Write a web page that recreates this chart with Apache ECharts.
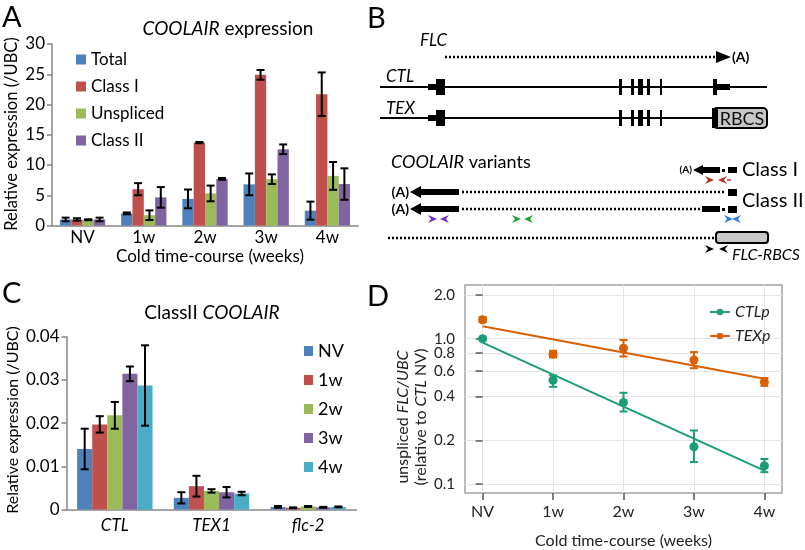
<!DOCTYPE html>
<html>
<head>
<meta charset="utf-8">
<script src="https://cdn.jsdelivr.net/npm/echarts@6/dist/echarts.min.js"></script>
<style>
  html, body { margin: 0; padding: 0; background: #fff; }
  #main { width: 805px; height: 550px; }
</style>
</head>
<body>
<div id="main"></div>
<script>
// ---- data ----
const weeks = ['NV', '1w', '2w', '3w', '4w'];

// panel A: COOLAIR expression
const aNames = ['Total', 'Class I', 'Unspliced', 'Class II'];
const aTotal = [1.0, 2.0, 4.4, 6.8, 2.45];
const aTotalErr = [0.3, 0.15, 1.55, 1.8, 1.5];
const aClassI = [1.0, 6.0, 13.7, 24.9, 21.7];
const aClassIErr = [0.2, 1.0, 0.1, 0.8, 3.6];
const aUnspliced = [0.95, 1.7, 5.3, 7.65, 8.2];
const aUnsplicedErr = [0.08, 0.8, 1.3, 0.8, 2.3];
const aClassII = [1.0, 4.65, 7.7, 12.6, 6.85];
const aClassIIErr = [0.3, 1.7, 0.15, 0.8, 2.6];

// panel C: ClassII COOLAIR
const cGenes = ['CTL', 'TEX1', 'flc-2'];
const cNV = [0.0140, 0.0027, 0.0006];
const cNVErr = [0.0047, 0.0013, 0.0002];
const c1w = [0.0197, 0.0054, 0.0004];
const c1wErr = [0.0019, 0.0024, 0.0001];
const c2w = [0.0218, 0.0043, 0.0007];
const c2wErr = [0.0031, 0.0004, 0.0001];
const c3w = [0.0314, 0.0040, 0.0005];
const c3wErr = [0.0017, 0.0012, 0.0001];
const c4w = [0.0287, 0.0037, 0.0006];
const c4wErr = [0.0093, 0.0004, 0.0001];

// panel D: unspliced FLC/UBC, log scale
const dTicks = [0.1, 0.2, 0.4, 0.6, 0.8, 1.0, 2.0];
const ctlMean = [1.0, 0.518, 0.365, 0.181, 0.134];
const ctlLow = [0.98, 0.467, 0.316, 0.142, 0.121];
const ctlHigh = [1.02, 0.56, 0.425, 0.234, 0.149];
const ctlFit = [0.94, 0.124];   // fitted line at NV and 4w
const texMean = [1.35, 0.783, 0.86, 0.714, 0.504];
const texLow = [1.30, 0.744, 0.755, 0.627, 0.474];
const texHigh = [1.40, 0.826, 0.98, 0.809, 0.537];
const texFit = [1.22, 0.531];

// ---- styles ----
const FONT = 'Lato, "Open Sans", sans-serif';
const officeColors = ['#4F81BD', '#C0504D', '#9BBB59', '#8064A2', '#4BACC6'];
const GREEN = '#1b9e77';
const ORANGE = '#d95f02';

const chart = echarts.init(document.getElementById('main'));

// error bars sitting on grouped bars
function barErrors(name, xIdx, yIdx, vals, errs, k, n, gap) {
  return {
    name: name, type: 'custom', xAxisIndex: xIdx, yAxisIndex: yIdx, z: 5,
    data: vals.map((v, i) => [i, v, errs[i]]),
    renderItem: function (params, api) {
      const band = api.size([1, 0])[0];
      const bw = band * (1 - gap) / n;
      const c = api.coord([api.value(0), api.value(1)]);
      const x = c[0] + (k - (n - 1) / 2) * bw;
      const top = api.coord([api.value(0), api.value(1) + api.value(2)])[1];
      const bot = api.coord([api.value(0), api.value(1) - api.value(2)])[1];
      const st = { stroke: '#000', lineWidth: 2 };
      return { type: 'group', children: [
        { type: 'line', shape: { x1: x, y1: top, x2: x, y2: bot }, style: st },
        { type: 'line', shape: { x1: x - 4, y1: top, x2: x + 4, y2: top }, style: st },
        { type: 'line', shape: { x1: x - 4, y1: bot, x2: x + 4, y2: bot }, style: st }
      ] };
    }
  };
}

function pointErrors(name, lows, highs, color) {
  return {
    name: name, type: 'custom', xAxisIndex: 2, yAxisIndex: 2, z: 4,
    data: lows.map((v, i) => [i, v, highs[i]]),
    renderItem: function (params, api) {
      const p1 = api.coord([api.value(0), api.value(1)]);
      const p2 = api.coord([api.value(0), api.value(2)]);
      const st = { stroke: color, lineWidth: 2 };
      return { type: 'group', children: [
        { type: 'line', shape: { x1: p1[0], y1: p1[1], x2: p2[0], y2: p2[1] }, style: st },
        { type: 'line', shape: { x1: p1[0] - 4, y1: p1[1], x2: p1[0] + 4, y2: p1[1] }, style: st },
        { type: 'line', shape: { x1: p2[0] - 4, y1: p2[1], x2: p2[0] + 4, y2: p2[1] }, style: st }
      ] };
    }
  };
}

function txt(x, y, text, o) {
  o = o || {};
  return {
    type: 'text', x: x, y: y, rotation: o.rot || 0, z: 10,
    style: {
      text: text, x: 0, y: 0,
      fontFamily: FONT, fontSize: o.size || 16, fontStyle: o.style || 'normal',
      fontWeight: o.weight || 'normal', fill: o.color || '#000',
      textAlign: o.align || 'left', textVerticalAlign: o.valign || 'middle',
      rich: { i: { fontFamily: FONT, fontSize: o.size || 16, fontStyle: 'italic', fill: o.color || '#000' } }
    }
  };
}
function rect(x1, y1, x2, y2, fill) {
  return { type: 'rect', shape: { x: x1, y: y1, width: x2 - x1, height: y2 - y1 }, style: { fill: fill || '#000' } };
}
function seg(x1, y1, x2, y2, w, dash) {
  return { type: 'line', shape: { x1: x1, y1: y1, x2: x2, y2: y2 },
    style: { stroke: '#000', lineWidth: w || 2, lineDash: dash || null } };
}
function poly(pts, fill) {
  return { type: 'polygon', shape: { points: pts }, style: { fill: fill || '#000' } };
}
// primer arrowheads: pointing right from x, and pointing left ending at x
function primerR(x, y, c) { return poly([[x, y - 4], [x + 9, y], [x, y + 4], [x + 3, y]], c); }
function primerL(x, y, c) { return poly([[x, y - 4], [x - 9, y], [x, y + 4], [x - 3, y]], c); }

const dotted = [2, 2];
const exonX = [[619, 622], [631, 634], [638, 643], [647, 650], [660, 662]];

function geneRow(y, withRbcs) {
  const els = [];
  els.push(seg(380, y, withRbcs ? 713 : 767, y, 2));
  els.push(rect(428, y - 3, 436, y + 3));
  els.push(rect(436, y - 8, 445, y + 8));
  exonX.forEach(e => els.push(rect(e[0], y - 8, e[1], y + 8)));
  if (withRbcs) {
    els.push({ type: 'rect', shape: { x: 713, y: y - 10, width: 54, height: 20, r: 4 },
      style: { fill: '#c8c8c8', stroke: '#000', lineWidth: 2 } });
    els.push(rect(712, y - 10, 718, y + 10));
    els.push(txt(742, y + 1, 'RBCS', { size: 18, align: 'center', color: '#111' }));
  } else {
    els.push(rect(713, y - 8, 717, y + 8));
    els.push(rect(717, y - 3, 730, y + 3));
  }
  return els;
}

function coolairArrow(y) {
  return [
    txt(409, y, '(A)', { size: 14, weight: 'bold', align: 'right' }),
    poly([[410, y], [421, y - 6], [421, y + 6]]),
    rect(421, y - 3, 459, y + 3)
  ];
}

const diagram = [].concat(
  [txt(420, 41, 'FLC', { size: 17, style: 'italic' }),
   seg(445, 57, 716, 57, 2.5, dotted),
   poly([[716, 51], [731, 57], [716, 63]]),
   txt(732, 57, '(A)', { size: 14, weight: 'bold' }),
   txt(386, 77, 'CTL', { size: 17, style: 'italic' }),
   txt(386, 109, 'TEX', { size: 17, style: 'italic' })],
  geneRow(87, false),
  geneRow(118, true),
  [txt(391, 162, '{i|COOLAIR} variants', { size: 18 }),
   // class I
   txt(692, 170, '(A)', { size: 10, weight: 'bold', align: 'right' }),
   poly([[693, 170], [703, 165], [703, 175]]),
   rect(703, 167, 720, 173),
   rect(722, 169, 725, 172),
   rect(728, 167, 737, 173),
   txt(742, 170, 'Class I', { size: 20 }),
   primerR(705, 180, '#b3302a'),
   primerL(727, 180, '#b3302a'),
   { type: 'line', shape: { x1: 727, y1: 180, x2: 731, y2: 180 }, style: { stroke: '#b3302a', lineWidth: 1.5 } }],
  // class II
  coolairArrow(192),
  [seg(462, 192, 726, 192, 2.5, dotted),
   rect(728, 189, 737, 196)],
  coolairArrow(209),
  [seg(462, 209, 700, 209, 2.5, dotted),
   rect(702, 206, 720, 212),
   rect(722, 208, 725, 211),
   rect(728, 206, 737, 213),
   txt(742, 201, 'Class II', { size: 20 }),
   primerR(428, 219, '#6a2fc0'), primerL(449, 219, '#6a2fc0'),
   primerR(512, 219, '#1e9e2a'), primerL(533, 219, '#1e9e2a'),
   primerR(724, 219, '#2d7fd6'), primerL(741, 219, '#2d7fd6'),
   // FLC-RBCS
   seg(388, 238, 714, 238, 2.5, dotted),
   { type: 'rect', shape: { x: 716, y: 232, width: 52, height: 11, r: 3 },
     style: { fill: '#c8c8c8', stroke: '#000', lineWidth: 2 } },
   primerR(705, 249, '#000'), primerL(728, 249, '#000'),
   txt(732, 255, 'FLC-RBCS', { size: 16, style: 'italic' })]
);

const labels = [
  txt(2, 18, 'A', { size: 29 }),
  txt(367, 19, 'B', { size: 29 }),
  txt(2, 294, 'C', { size: 29 }),
  txt(367, 297, 'D', { size: 29 }),
  txt(228, 29, '{i|COOLAIR} expression', { size: 19, align: 'center' }),
  txt(212, 313, 'ClassII {i|COOLAIR}', { size: 19, align: 'center' }),
  txt(12, 134, 'Relative expression (/UBC)', { size: 16.5, align: 'center', rot: Math.PI / 2 }),
  txt(210, 257, 'Cold time-course (weeks)', { size: 17, align: 'center' }),
  txt(13, 420, 'Relative expression (/UBC)', { size: 16, align: 'center', rot: Math.PI / 2 }),
  txt(403, 417, 'unspliced {i|FLC/UBC}', { size: 16, align: 'center', rot: Math.PI / 2, color: '#222' }),
  txt(421, 417, '(relative to {i|CTL} NV)', { size: 16, align: 'center', rot: Math.PI / 2, color: '#222' })
];

const axisGray = { color: '#868686', width: 1.5 };
const tickLabel = { fontFamily: FONT, fontSize: 17, color: '#000' };

function barSeries(name, xIdx, yIdx, vals, color, gap) {
  return { name: name, type: 'bar', xAxisIndex: xIdx, yAxisIndex: yIdx, data: vals,
    barGap: '0%', barCategoryGap: gap, itemStyle: { color: color } };
}

const aVals = [aTotal, aClassI, aUnspliced, aClassII];
const aErrs = [aTotalErr, aClassIErr, aUnsplicedErr, aClassIIErr];
const cVals = [cNV, c1w, c2w, c3w, c4w];
const cErrs = [cNVErr, c1wErr, c2wErr, c3wErr, c4wErr];

const series = [];
aNames.forEach((n, k) => series.push(barSeries(n, 0, 0, aVals[k], officeColors[k], '26%')));
aNames.forEach((n, k) => series.push(barErrors('errA' + k, 0, 0, aVals[k], aErrs[k], k, 4, 0.26)));
weeks.forEach((n, k) => series.push(barSeries(n, 1, 1, cVals[k], officeColors[k], '22%')));
weeks.forEach((n, k) => series.push(barErrors('errC' + k, 1, 1, cVals[k], cErrs[k], k, 5, 0.22)));

function fitLine(name, fit, color) {
  return { name: name, type: 'line', xAxisIndex: 2, yAxisIndex: 2,
    data: [[0, fit[0]], [4, fit[1]]], symbol: 'circle', symbolSize: 8, showSymbol: false,
    lineStyle: { color: color, width: 2 }, itemStyle: { color: color }, z: 3 };
}
function points(name, vals, color) {
  return { name: name, type: 'scatter', xAxisIndex: 2, yAxisIndex: 2,
    data: vals.map((v, i) => [i, v]), symbol: 'circle', symbolSize: 9,
    itemStyle: { color: color, opacity: 1 }, z: 5 };
}
series.push(fitLine('CTLp', ctlFit, GREEN));
series.push(fitLine('TEXp', texFit, ORANGE));
series.push(points('CTLp', ctlMean, GREEN));
series.push(points('TEXp', texMean, ORANGE));
series.push(pointErrors('errCTL', ctlLow, ctlHigh, GREEN));
series.push(pointErrors('errTEX', texLow, texHigh, ORANGE));

const weekIdx = [0, 1, 2, 3, 4];

chart.setOption({
  animation: false,
  textStyle: { fontFamily: FONT },
  grid: [
    { left: 52, top: 44, width: 306, bottom: 324.5 },
    { left: 66.5, top: 336.7, width: 290, bottom: 40.5 },
    { left: 465, top: 285, right: 23, bottom: 52, show: true, borderColor: '#a3a3a3', borderWidth: 1.5, backgroundColor: '#fff' }
  ],
  legend: [
    { data: aNames, orient: 'vertical', left: 71, top: 46, itemWidth: 10, itemHeight: 10, itemGap: 10,
      icon: 'rect', selectedMode: false, textStyle: { fontFamily: FONT, fontSize: 17, color: '#000' } },
    { data: weeks, orient: 'vertical', left: 299, top: 337, itemWidth: 9, itemHeight: 10, itemGap: 11,
      itemTextGap: 2, icon: 'rect', selectedMode: false, textStyle: { fontFamily: FONT, fontSize: 18, color: '#000' } },
    { data: ['CTLp', 'TEXp'], orient: 'vertical', left: 704, top: 299, itemWidth: 20, itemHeight: 8, itemGap: 8,
      selectedMode: false, textStyle: { fontFamily: FONT, fontSize: 16, fontStyle: 'italic', color: '#222' } }
  ],
  xAxis: [
    { type: 'category', gridIndex: 0, data: weeks,
      axisLine: { lineStyle: axisGray }, axisTick: { length: 5, lineStyle: axisGray },
      axisLabel: Object.assign({ margin: 4 }, tickLabel) },
    { type: 'category', gridIndex: 1, data: cGenes,
      axisLine: { lineStyle: axisGray }, axisTick: { length: 5, lineStyle: axisGray },
      axisLabel: Object.assign({ margin: 8 }, tickLabel, { fontStyle: 'italic' }) },
    { type: 'value', gridIndex: 2, min: -0.25, max: 4.25,
      axisLine: { show: false },
      axisTick: { customValues: weekIdx, length: 7, lineStyle: { color: '#555', width: 1.5 } },
      axisLabel: { customValues: weekIdx, formatter: v => weeks[Math.round(v)], margin: 11,
        fontFamily: FONT, fontSize: 16, color: '#222' },
      splitLine: { show: true, lineStyle: { color: '#e4e4e4', width: 1 } },
      name: 'Cold time-course (weeks)', nameLocation: 'middle', nameGap: 40,
      nameTextStyle: { fontFamily: FONT, fontSize: 16, color: '#222' } }
  ],
  yAxis: [
    { type: 'value', gridIndex: 0, min: 0, max: 30, interval: 5,
      axisLine: { show: true, lineStyle: axisGray }, axisTick: { show: true, length: 5, lineStyle: axisGray },
      splitLine: { show: false }, axisLabel: Object.assign({ margin: 7 }, tickLabel) },
    { type: 'value', gridIndex: 1, min: 0, max: 0.04, interval: 0.01,
      axisLine: { show: true, lineStyle: axisGray }, axisTick: { show: true, length: 5, lineStyle: axisGray },
      splitLine: { show: false }, axisLabel: Object.assign({ margin: 7 }, tickLabel) },
    { type: 'log', gridIndex: 2, logBase: 10, min: 0.087, max: 2.34,
      axisLine: { show: false },
      axisTick: { customValues: dTicks, length: 7, lineStyle: { color: '#555', width: 1.5 } },
      axisLabel: { customValues: dTicks, formatter: v => Number(v).toFixed(1), margin: 10,
        fontFamily: FONT, fontSize: 15, color: '#222' },
      splitLine: { show: true, lineStyle: { color: '#e4e4e4', width: 1 } } }
  ],
  graphic: { elements: diagram.concat(labels) },
  series: series
});
</script>
</body>
</html>
